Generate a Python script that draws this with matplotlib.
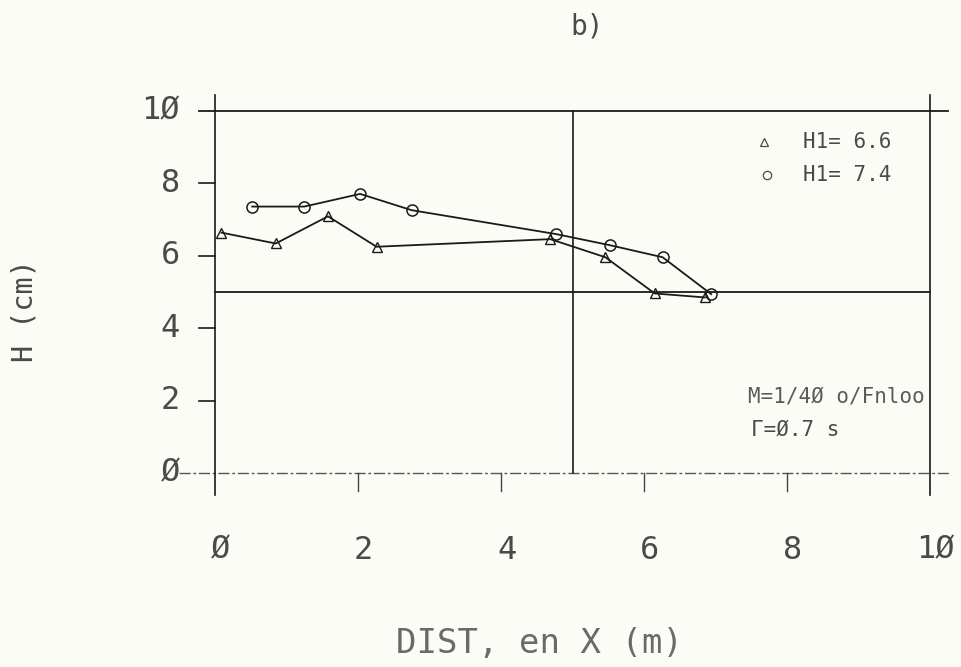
import matplotlib.pyplot as plt

# H1 = 6.6 series (triangles)
dist_a = [0.09, 0.85, 1.58, 2.26, 4.69, 5.46, 6.15, 6.85]
h_a = [6.64, 6.34, 7.09, 6.25, 6.46, 5.96, 4.96, 4.85]
# H1 = 7.4 series (circles)
dist_b = [0.52, 1.25, 2.03, 2.75, 4.77, 5.53, 6.26, 6.94]
h_b = [7.36, 7.36, 7.71, 7.26, 6.60, 6.29, 5.96, 4.94]

ticks = [0, 2, 4, 6, 8, 10]
tick_labels = ['Ø', '2', '4', '6', '8', '1Ø']
legend_labels = ['H1= 6.6', 'H1= 7.4']

# plotter lettering -> monospaced font
plt.rcParams['font.family'] = ['DejaVu Sans Mono', 'DejaVu Sans']
ink = '#1a1a1a'
txt = '#4a4a4a'

fig = plt.figure(figsize=(9.62, 6.67), dpi=100, facecolor='#fcfcf7')
ax = fig.add_axes([215/962, 1-473/667, 715/962, 362/667])
ax.set_xlim(0, 10)
ax.set_ylim(0, 10)
ax.axis('off')

# frame / reference lines drawn like the pen plotter did
ax.plot([-0.22, 10.25], [10, 10], color=ink, lw=1.3, clip_on=False)
ax.plot([0, 10], [5, 5], color=ink, lw=1.3, clip_on=False)
ax.plot([-0.5, 10.3], [0, 0], color='#555555', lw=1.0, ls=(0, (8, 2, 2, 2)), clip_on=False)
for xv in [0, 10]:
    ax.plot([xv, xv], [-0.6, 10.45], color=ink, lw=1.2, clip_on=False)
ax.plot([5, 5], [0, 10], color=ink, lw=1.2, clip_on=False)

for t, lab in zip(ticks, tick_labels):
    if 0 < t < 10:
        ax.plot([-0.23, 0], [t, t], color=ink, lw=1.2, clip_on=False)
        ax.plot([t, t], [0, -0.5], color='#444444', lw=1.0, clip_on=False)
    ax.text(-0.49, t, lab, ha='right', va='center', fontsize=23, color=txt)
    ax.text(t + 0.08, -2.13, lab, ha='center', va='center', fontsize=23, color=txt)

ax.plot(dist_a, h_a, color=ink, lw=1.3, marker='^', ms=7, mfc='none', mec=ink, mew=1.0, clip_on=False)
ax.plot(dist_b, h_b, color=ink, lw=1.3, marker='o', ms=8, mfc='none', mec=ink, mew=1.1, clip_on=False)

# legend block
ax.plot(7.68, 9.14, marker='^', ms=6, mfc='none', mec=txt, mew=0.9, clip_on=False)
ax.plot(7.72, 8.23, marker='o', ms=6, mfc='none', mec=txt, mew=0.9, clip_on=False)
ax.text(8.22, 9.14, legend_labels[0], ha='left', va='center', fontsize=15, color=txt)
ax.text(8.22, 8.23, legend_labels[1], ha='left', va='center', fontsize=15, color=txt)

ax.text(7.45, 2.10, 'M=1/4Ø o/Fnloo', ha='left', va='center', fontsize=15, color='#5a5a5a')
ax.text(7.49, 1.19, 'Γ=Ø.7 s', ha='left', va='center', fontsize=15, color='#4a4a4a')

fig.text(587/962, 1-27/667, 'b)', ha='center', va='center', fontsize=20, color=txt)
fig.text(540/962, 1-643/667, 'DIST, en X (m)', ha='center', va='center', fontsize=24.5, color='#6a6a6a')
fig.text(25/962, 1-311/667, 'H (cm)', ha='center', va='center', rotation=90, fontsize=20.5, color=txt)

fig.savefig('out.png', dpi=100, facecolor=fig.get_facecolor())
